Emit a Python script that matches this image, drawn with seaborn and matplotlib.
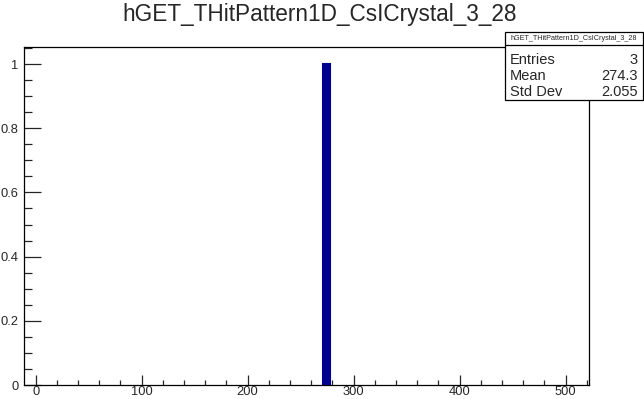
import matplotlib
matplotlib.use("Agg")
import matplotlib.pyplot as plt
import seaborn as sns
import numpy as np
from matplotlib.ticker import MultipleLocator
from matplotlib.patches import Rectangle
from matplotlib.lines import Line2D

# Data
title = "hGET_THitPattern1D_CsICrystal_3_28"
hit_positions = [272, 274, 277]
stat_names = ["Entries", "Mean", "Std Dev"]
stat_values = ["3", "274.3", "2.055"]

sns.set_style("ticks")
plt.rcParams['font.family'] = ['Liberation Sans', 'DejaVu Sans']

W, H = 644, 399
fig = plt.figure(figsize=(6.44, 3.99), dpi=100)
ax = fig.add_axes([24 / W, 1 - 385 / H, (589 - 24) / W, (385 - 47) / H])

sns.histplot(x=hit_positions, discrete=True, ax=ax,
             color="#00008f", edgecolor="#00008f", linewidth=1.5, alpha=1,
             element="bars", fill=True)

ax.set_xlim(-11, 522)
ax.set_ylim(0, 1.053)
ax.set_xlabel("")
ax.set_ylabel("")

ax.xaxis.set_major_locator(MultipleLocator(100))
ax.xaxis.set_minor_locator(MultipleLocator(20))
ax.yaxis.set_major_locator(MultipleLocator(0.2))
ax.yaxis.set_minor_locator(MultipleLocator(0.05))
ax.yaxis.set_major_formatter(plt.FuncFormatter(lambda v, p: f"{v:g}"))

ax.tick_params(axis="x", which="major", direction="in", length=7.2, width=0.9, pad=1.0, labelsize=9.3)
ax.tick_params(axis="x", which="minor", direction="in", length=3.6, width=0.9)
ax.tick_params(axis="y", which="major", direction="in", length=12, width=0.9, pad=4, labelsize=9.3)
ax.tick_params(axis="y", which="minor", direction="in", length=6, width=0.9)
for s in ax.spines.values():
    s.set_visible(True)
    s.set_color("black")
    s.set_linewidth(0.9)

fig.text(320 / W, 1 - 14 / H, title, ha="center", va="center", fontsize=16.3)

# Stats box (figure pixel coordinates)
def fx(x):
    return x / W
def fy(y):
    return 1 - y / H

box = Rectangle((fx(505), fy(100)), fx(643) - fx(505), fy(32) - fy(100),
                transform=fig.transFigure, facecolor="white", edgecolor="black",
                linewidth=0.9, zorder=5)
fig.add_artist(box)
fig.add_artist(Line2D([fx(505), fx(643)], [fy(45), fy(45)], transform=fig.transFigure,
                      color="black", linewidth=0.9, zorder=6))
fig.text(fx(574), fy(38.5), title, ha="center", va="center", fontsize=5.2, zorder=7)
rows_y = [60, 76, 92]
for name, val, yy in zip(stat_names, stat_values, rows_y):
    fig.text(fx(510), fy(yy), name, ha="left", va="center", fontsize=10.5, zorder=7)
    fig.text(fx(638), fy(yy), val, ha="right", va="center", fontsize=10.5, zorder=7)

fig.savefig("out.png", dpi=100)
